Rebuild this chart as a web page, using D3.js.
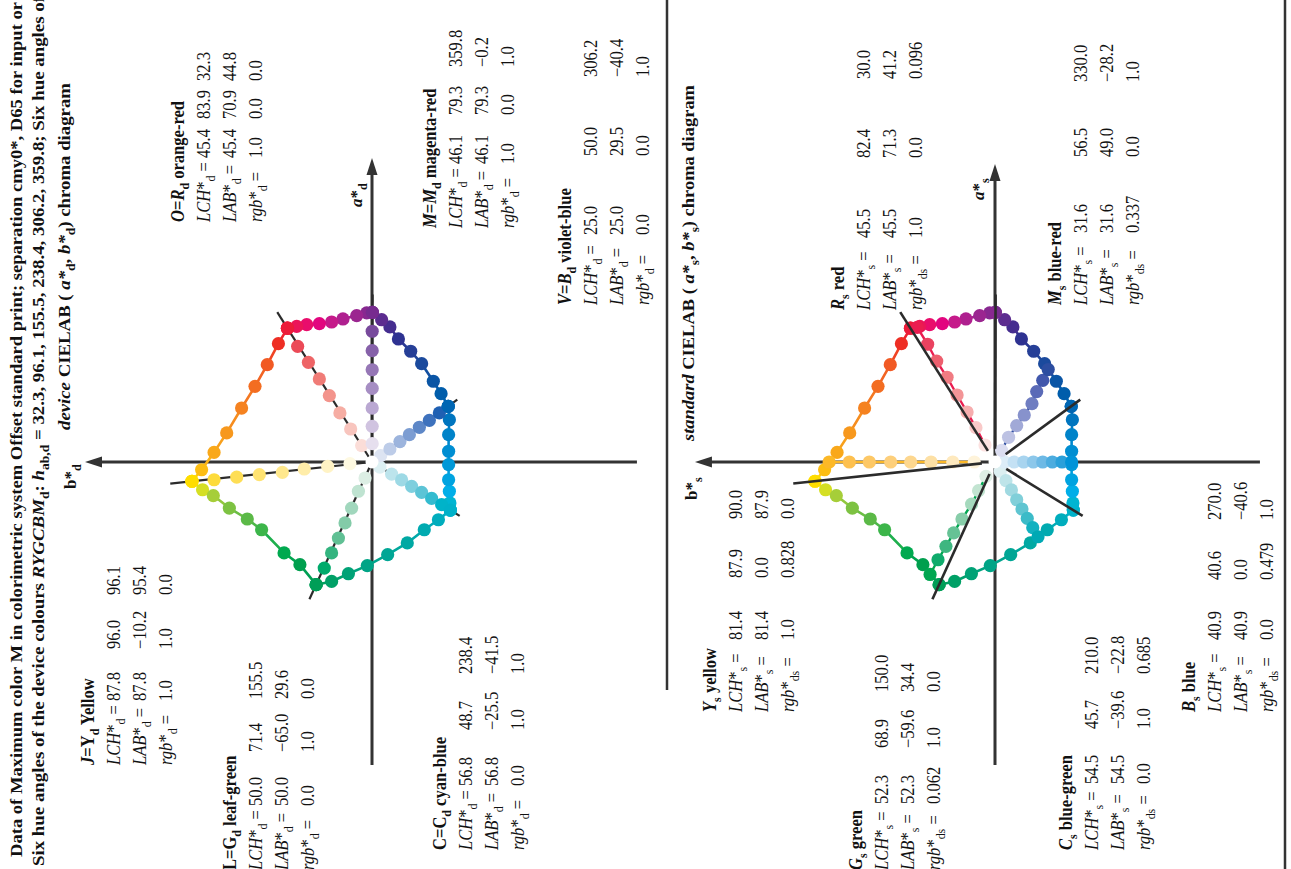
<!DOCTYPE html>
<html>
<head>
<meta charset="utf-8">
<script src="https://cdn.jsdelivr.net/npm/d3@7"></script>
<style>
  html, body { margin: 0; padding: 0; background: #fff; }
  svg { display: block; }
  text { font-family: "Liberation Serif", "Times New Roman", serif; fill: #111; white-space: pre; }
</style>
</head>
<body>
<svg id="chart" width="1291" height="869"></svg>
<script>
// ---------- device colours (d): LCH*, LAB*, rgb* ----------
const lchO = [45.4, 83.9, 32.3],  labO = [45.4, 70.9, 44.8],   rgbO = [1.0, 0.0, 0.0];
const lchJ = [87.8, 96.0, 96.1],  labJ = [87.8, -10.2, 95.4],  rgbJ = [1.0, 1.0, 0.0];
const lchL = [50.0, 71.4, 155.5], labL = [50.0, -65.0, 29.6],  rgbL = [0.0, 1.0, 0.0];
const lchC = [56.8, 48.7, 238.4], labC = [56.8, -25.5, -41.5], rgbC = [0.0, 1.0, 1.0];
const lchV = [25.0, 50.0, 306.2], labV = [25.0, 29.5, -40.4],  rgbV = [0.0, 0.0, 1.0];
const lchM = [46.1, 79.3, 359.8], labM = [46.1, 79.3, -0.2],   rgbM = [1.0, 0.0, 1.0];

// ---------- standard colours (s) ----------
const lchRs = [45.5, 82.4, 30.0],  labRs = [45.5, 71.3, 41.2],  rgbRs = [1.0, 0.0, 0.096];
const lchYs = [81.4, 87.9, 90.0],  labYs = [81.4, 0.0, 87.9],   rgbYs = [1.0, 0.828, 0.0];
const lchGs = [52.3, 68.9, 150.0], labGs = [52.3, -59.6, 34.4], rgbGs = [0.062, 1.0, 0.0];
const lchCs = [54.5, 45.7, 210.0], labCs = [54.5, -39.6, -22.8],rgbCs = [0.0, 1.0, 0.685];
const lchBs = [40.9, 40.6, 270.0], labBs = [40.9, 0.0, -40.6],  rgbBs = [0.0, 0.479, 1.0];
const lchMs = [31.6, 56.5, 330.0], labMs = [31.6, 49.0, -28.2], rgbMs = [0.337, 0.0, 1.0];

// printed appearance of the corner samples
const colO = "#ec1c3a", colJ = "#ffdd00", colL = "#009e57", colC = "#00b1c9", colV = "#0066b3", colM = "#772b8f";
const colRs = "#ea1d50", colYs = "#fcb827", colGs = "#00a650", colCs = "#00a9b4", colBs = "#0093d8", colMs = "#2c4da0";

// ---------- hexagon edges: intermediate samples (a*, b*) and colours ----------
const edgeOJ = [[62.7,49.6],[51.6,55.5],[40.1,62.0],[28.6,69.1],[15.4,77.0],[5.1,83.7],[-4.1,90.3]];
const edgeOJcol = ["#ee2e24","#f15a24","#f36d21","#f58220","#f7981d","#f9a81a","#fcbd13"];
const edgeJL = [[-14.7,89.8],[-17.8,84.1],[-24.4,75.6],[-30.2,66.1],[-35.9,58.5],[-48.2,46.6],[-54.4,38.2]];
const edgeJLcol = ["#d5df24","#a6ce39","#7dc242","#5bb947","#3cb54a","#00a94f","#009f4e"];
const edgeLC = [[-63.3,21.4],[-59.2,12.5],[-54.9,2.5],[-49.1,-8.3],[-42.9,-18.7],[-35.9,-27.7],[-30.6,-35.2]];
const edgeLCcol = ["#00a066","#00a276","#00a486","#00a695","#00a8a3","#00aab0","#00adbd"];
const edgeCV = [[-21.7,-41.3],[-15.5,-41.0],[-9.4,-40.6],[-1.4,-40.6],[5.7,-40.6],[14.5,-40.6],[22.4,-41.0]];
const edgeCVcol = ["#00b5d2","#00aee8","#00a3e0","#0098d8","#008ed2","#0083c9","#0075bf"];
const edgeVM = [[36.2,-36.6],[42.8,-32.5],[52.1,-26.3],[58.7,-20.5],[65.2,-14.0],[71.6,-9.5],[75.4,-5.1]];
const edgeVMcol = ["#005dab","#0a55a5","#1b4a9d","#263f97","#2e3291","#452d8f","#5c2c8f"];
const edgeMO = [[79.0,2.8],[77.6,8.1],[75.8,15.4],[74.2,21.4],[73.3,27.9],[72.8,34.6],[71.9,39.9]];
const edgeMOcol = ["#882890","#9b2690","#af208f","#c51a8a","#e2057f","#e90d6c","#eb1559"];

// ---------- device radials: white point -> device colour ----------
const radO = [[8.7,5.5],[17.5,11.3],[26.0,17.0],[35.2,22.6],[44.0,27.9],[52.8,33.7],[61.3,39.4]];
const radOcol = ["#fbddd8","#f8c5be","#f6ada3","#f3948c","#f07c77","#ee6466","#eb4a57"];
const radJ = [[-0.9,11.7],[-2.3,23.5],[-3.7,35.9],[-5.5,47.5],[-6.7,59.7],[-8.0,71.7],[-9.4,83.7]];
const radJcol = ["#fef9e1","#fff3c5","#ffeda9","#ffe88d","#ffe372","#fede55","#fddb3b"];
const radL = [[-8.5,3.7],[-15.5,7.2],[-24.4,10.8],[-32.3,14.3],[-40.3,17.8],[-48.2,21.4],[-56.2,25.3]];
const radLcol = ["#dceee4","#bfe3d1","#a1d7bd","#83cba8","#60c094","#33b47f","#00aa6b"];
const radC = [[-2.7,-4.2],[-6.4,-10.4],[-9.5,-15.7],[-12.9,-21.0],[-16.1,-26.3],[-19.3,-31.6],[-22.6,-36.9]];
const radCcol = ["#ddf0f3","#bce4ec","#9dd9e5","#7ecfde","#5cc4d6","#33bbcf","#00b3c9"];
const radV = [[3.4,-4.6],[6.9,-9.5],[10.8,-14.8],[14.5,-19.8],[18.4,-25.1],[22.1,-30.4],[26.0,-35.7]];
const radVcol = ["#dde4f2","#bdcce8","#9cb4dd","#7c9dd2","#5d87c7","#3e72bd","#1f60b3"];
const radM = [[9.7,-0.1],[18.9,-0.1],[28.6,-0.1],[39.0,-0.1],[48.9,-0.1],[59.0,-0.1],[69.3,-0.1]];
const radMcol = ["#e6dfee","#d0c3e0","#baa8d2","#a68ec3","#9677b6","#8661a9","#784a9c"];

// ---------- standard radials: white point -> standard colour ----------
const radRs = [[9.0,5.3],[18.2,10.1],[26.5,14.8],[35.5,20.1],[44.9,25.4],[53.5,30.9],[62.4,35.7]];
const radRscol = ["#fce1e0","#f9c9c8","#f6adae","#f39597","#f07b82","#ed5f6e","#ea4260"];
const radYs = [[0,11.0],[0,22.4],[0,33.9],[0,44.7],[0,55.3],[0,66.6],[0,77.2]];
const radYscol = ["#fef3da","#fee9be","#fde0a5","#fdd78f","#fdcf7b","#fdc866","#fdc04f"];
const radGs = [[-7.6,4.8],[-15.2,8.7],[-22.3,12.4],[-30.2,17.5],[-37.6,21.9],[-44.7,26.0],[-51.8,30.2]];
const radGscol = ["#deefe5","#c2e4d1","#a5d9bd","#87cda9","#66c295","#3eb680","#0fab6c"];
const radCs = [[-4.9,-2.8],[-9.9,-5.8],[-14.8,-8.7],[-20.0,-11.5],[-24.9,-14.3],[-29.9,-17.1],[-34.8,-20.0]];
const radCscol = ["#dceff1","#bee4e9","#a0d9e1","#80cfd9","#5fc5d1","#3bbbc8","#12b1c0"];
const radBs = [[0,-5.1],[0,-10.1],[0,-15.2],[0,-20.3],[0,-25.3],[0,-30.4],[0,-35.5]];
const radBscol = ["#ddedf8","#c4e1f4","#a8d4ef","#8cc7ea","#6db9e5","#4cacdf","#2aa0da"];
const radMs = [[6.2,-3.5],[13.1,-7.2],[19.3,-11.5],[24.9,-15.5],[30.9,-19.6],[37.3,-22.1],[43.3,-25.3]];
const radMscol = ["#dbddf0","#bdc2e3","#a1a9d7","#8792cc","#6f7dc1","#5a6ab7","#4157ac"];

// axis extents in CIELAB units [min, arrow tip]
const aAxisLeft = [-160.6, 161.1], bAxisLeft = [-140.4, 152.1];
const aAxisRight = [-160.6, 157.9], bAxisRight = [-140.4, 159.0];

// ---------- layout ----------
const W = 1291, H = 869;
const K = 1.887;            // px per CIELAB unit
const FS = 18;              // body text size
const SX = 0.92;            // horizontal condensing of body text
const LINE = 26;            // line pitch inside a text block
const DOT = 6.6;            // sample dot radius

const svg = d3.select("#chart");
// the page is laid out in portrait and turned a quarter turn
const page = svg.append("g").attr("transform", `translate(0,${H}) rotate(-90)`);

const fmt = v => {
  const one = Math.abs(v * 10 - Math.round(v * 10)) < 1e-6;
  return v.toFixed(one ? 1 : 3).replace("-", "\u2212");
};

function richText(parent, px, py, runs, opt = {}) {
  const fs = opt.fs || FS;
  const t = parent.append("text")
    .attr("transform", `translate(${px},${py})` + (opt.sx ? ` scale(${opt.sx},1)` : ""))
    .attr("font-size", fs);
  if (opt.bold) t.attr("font-weight", "bold");
  if (opt.len) t.attr("textLength", opt.len).attr("lengthAdjust", "spacingAndGlyphs");
  let shift = 0;
  runs.forEach(([str, style = "", xpos]) => {
    const ts = t.append("tspan").text(str);
    const sub = style.includes("s");
    const target = sub ? fs * 0.3 : 0;
    if (xpos != null) ts.attr("x", xpos);
    if (target !== shift) { ts.attr("dy", target - shift); shift = target; }
    if (sub) ts.attr("font-size", fs * 0.72);
    if (style.includes("i")) ts.attr("font-style", "italic");
  });
  return t;
}

function diagram(cx, cy, aExt, bExt) {
  const g = page.append("g");
  const x = d3.scaleLinear().domain([0, 100]).range([cx, cx + 100 * K]);
  const y = d3.scaleLinear().domain([0, 100]).range([cy, cy - 100 * K]);
  const ax = g.append("g").attr("stroke", "#333").attr("stroke-width", 3);
  ax.append("line").attr("x1", x(aExt[0])).attr("x2", x(aExt[1]) - 10).attr("y1", y(0)).attr("y2", y(0));
  ax.append("line").attr("y1", y(bExt[0])).attr("y2", y(bExt[1]) + 10).attr("x1", x(0)).attr("x2", x(0));
  g.append("path").attr("fill", "#333")
    .attr("d", `M${x(aExt[1])},${y(0)} l-17,-5.5 l0,11 z`);
  g.append("path").attr("fill", "#333")
    .attr("d", `M${x(0)},${y(bExt[1])} l-5.5,17 l11,0 z`);
  return { g, x, y };
}

function hueLines(d, list, r0, width) {
  const rad = Math.PI / 180;
  d.g.append("g").selectAll("line").data(list).join("line")
    .attr("x1", l => d.x(r0 * Math.cos(l[2] * rad))).attr("y1", l => d.y(r0 * Math.sin(l[2] * rad)))
    .attr("x2", l => d.x(1.12 * l[1] * Math.cos(l[2] * rad))).attr("y2", l => d.y(1.12 * l[1] * Math.sin(l[2] * rad)))
    .attr("stroke", "#2b2b2b").attr("stroke-width", width).attr("stroke-linecap", "butt");
}

function series(from, fromCol, mids, midCols, to, toCol) {
  const pts = [[from[1], from[2]], ...mids, [to[1], to[2]]];
  const cols = [fromCol, ...midCols, toCol];
  return pts.map((p, i) => ({ a: p[0], b: p[1], c: cols[i] }));
}

function drawLinks(d, s, width, colorFn) {
  d.g.append("g").selectAll("line").data(d3.pairs(s)).join("line")
    .attr("x1", p => d.x(p[0].a)).attr("y1", p => d.y(p[0].b))
    .attr("x2", p => d.x(p[1].a)).attr("y2", p => d.y(p[1].b))
    .attr("stroke", colorFn).attr("stroke-width", width).attr("stroke-linecap", "round");
}

function drawDots(d, s) {
  d.g.append("g").selectAll("circle").data(s).join("circle")
    .attr("cx", p => d.x(p.a)).attr("cy", p => d.y(p.b)).attr("r", DOT)
    .attr("fill", p => p.c);
}

const white = [100, 0, 0];
const edges = [
  series(labO, colO, edgeOJ, edgeOJcol, labJ, colJ),
  series(labJ, colJ, edgeJL, edgeJLcol, labL, colL),
  series(labL, colL, edgeLC, edgeLCcol, labC, colC),
  series(labC, colC, edgeCV, edgeCVcol, labV, colV),
  series(labV, colV, edgeVM, edgeVMcol, labM, colM),
  series(labM, colM, edgeMO, edgeMOcol, labO, colO)
];
const deviceRadials = [
  series(white, "#ffffff", radO, radOcol, labO, colO),
  series(white, "#ffffff", radJ, radJcol, labJ, colJ),
  series(white, "#ffffff", radL, radLcol, labL, colL),
  series(white, "#ffffff", radC, radCcol, labC, colC),
  series(white, "#ffffff", radV, radVcol, labV, colV),
  series(white, "#ffffff", radM, radMcol, labM, colM)
];
const standardRadials = [
  series(white, "#ffffff", radRs, radRscol, labRs, colRs),
  series(white, "#ffffff", radYs, radYscol, labYs, colYs),
  series(white, "#ffffff", radGs, radGscol, labGs, colGs),
  series(white, "#ffffff", radCs, radCscol, labCs, colCs),
  series(white, "#ffffff", radBs, radBscol, labBs, colBs),
  series(white, "#ffffff", radMs, radMscol, labMs, colMs)
];
const deviceLCH = [lchO, lchJ, lchL, lchC, lchV, lchM];
const midColor = p => d3.interpolateRgb(p[0].c, p[1].c)(0.5);

// ---------- left: device chroma diagram ----------
const dev = diagram(407, 372, aAxisLeft, bAxisLeft);
hueLines(dev, deviceLCH, 0, 2.2);
edges.forEach(s => drawLinks(dev, s, 2.6, midColor));
edges.forEach(s => drawDots(dev, s));
deviceRadials.forEach(s => drawDots(dev, s.slice(1)));
dev.g.append("circle").attr("cx", dev.x(0)).attr("cy", dev.y(0)).attr("r", 6.5).attr("fill", "#fff");

// ---------- right: standard chroma diagram ----------
const std = diagram(407, 995, aAxisRight, bAxisRight);
edges.forEach(s => drawLinks(std, s, 2.6, midColor));
edges.forEach(s => drawDots(std, s));
standardRadials.forEach(s => drawLinks(std, s.slice(1), 2.4, () => s[s.length - 1].c));
standardRadials.forEach(s => drawDots(std, s.slice(1)));
std.g.append("circle").attr("cx", std.x(0)).attr("cy", std.y(0)).attr("r", 6.5).attr("fill", "#fff");
hueLines(std, deviceLCH, 7, 2.6);

// ---------- frame lines ----------
page.append("line").attr("x1", H - 690).attr("x2", H).attr("y1", 667).attr("y2", 667)
  .attr("stroke", "#333").attr("stroke-width", 2.5);
page.append("line").attr("x1", 0).attr("x2", H).attr("y1", 1285).attr("y2", 1285)
  .attr("stroke", "#333").attr("stroke-width", 2.5);

// ---------- titles ----------
richText(page, 12, 22, [["Data of Maximum color M in colorimetric system Offset standard print; separation cmy0*, D65 for input or"]],
  { bold: true, fs: 17, len: 855 });
const hueList = deviceLCH.map(l => fmt(l[2])).join(", ");
richText(page, 3, 44, [["Six hue angles of the device colours "], ["RYGCBM", "i"], ["d", "s"], [": "], ["h", "i"], ["ab,d", "s"],
  [" = " + hueList + "; Six hue angles of"]], { bold: true, fs: 17, len: 870 });

richText(page, 439, 70, [["device", "i"], [" CIELAB ( "], ["a*", "i"], ["d", "s"], [", "], ["b*", "i"], ["d", "s"], [") chroma diagram"]],
  { bold: true, fs: 17, len: 347 });
richText(page, 428, 694, [["standard", "i"], [" CIELAB ( "], ["a*", "i"], ["s", "s"], [", "], ["b*", "i"], ["s", "s"], [") chroma diagram"]],
  { bold: true, fs: 17, len: 356 });

// axis names
richText(page, 662, 362, [["a", "i"], ["*"], ["d", "s"]], { bold: true, fs: 17 });
richText(page, 380, 76, [["b"], ["*"], ["d", "s"]], { bold: true, fs: 17 });
richText(page, 669, 984, [["a", "i"], ["*"], ["s", "s"]], { bold: true, fs: 17 });
richText(page, 369, 697, [["b"], ["*"], ["s", "s"]], { bold: true, fs: 17 });

// ---------- data blocks ----------
function textBlock(px, py, head, sub, rgbSub, lch, lab, rgb, cols) {
  richText(page, px, py, head, { bold: true, sx: SX });
  const rows = [
    [["LCH", "i"], ["*"], [sub, "s"], [" = "]],
    [["LAB", "i"], ["*"], [sub, "s"], [" = "]],
    [["rgb", "i"], ["*"], [rgbSub, "s"], [" = "]]
  ];
  [lch, lab, rgb].forEach((vals, i) => {
    const runs = rows[i].concat(vals.map((v, j) => [fmt(v), "", cols[j] / SX]));
    richText(page, px, py + LINE * (i + 1), runs, { sx: SX });
  });
}

textBlock(647, 184, [["O", "i"], ["="], ["R", "i"], ["d", "s"], [" orange-red"]], "d", "d", lchO, labO, rgbO, [64, 103, 141]);
textBlock(641, 436, [["M", "i"], ["="], ["M", "i"], ["d", "s"], [" magenta-red"]], "d", "d", lchM, labM, rgbM, [64, 113, 161]);
textBlock(564, 571, [["V", "i"], ["="], ["B", "i"], ["d", "s"], [" violet-blue"]], "d", "d", lchV, labV, rgbV, [70, 149, 228]);
textBlock(104, 94, [["J", "i"], ["=Y"], ["d", "s"], [" Yellow"]], "d", "d", lchJ, labJ, rgbJ, [64, 116, 170]);
textBlock(-1, 236, [["L=G"], ["d", "s"], [" leaf-green"]], "d", "d", lchL, labL, rgbL, [64, 118, 171]);
textBlock(19, 446, [["C=C"], ["d", "s"], [" cyan-blue"]], "d", "d", lchC, labC, rgbC, [64, 120, 176]);

textBlock(559, 844, [["R", "i"], ["s", "s"], [" red"]], "s", "ds", lchRs, labRs, rgbRs, [72, 152, 231]);
textBlock(564, 1061, [["M", "i"], ["s", "s"], [" blue-red"]], "s", "ds", lchMs, labMs, rgbMs, [72, 148, 223]);
textBlock(157, 716, [["Y", "i"], ["s", "s"], [" yellow"]], "s", "ds", lchYs, labYs, rgbYs, [72, 134, 193]);
textBlock(-1, 862, [["G", "i"], ["s", "s"], [" green"]], "s", "ds", lchGs, labGs, rgbGs, [66, 122, 178]);
textBlock(19, 1072, [["C", "i"], ["s", "s"], [" blue-green"]], "s", "ds", lchCs, labCs, rgbCs, [66, 121, 176]);
textBlock(157, 1195, [["B", "i"], ["s", "s"], [" blue"]], "s", "ds", lchBs, labBs, rgbBs, [72, 132, 192]);
</script>
</body>
</html>
